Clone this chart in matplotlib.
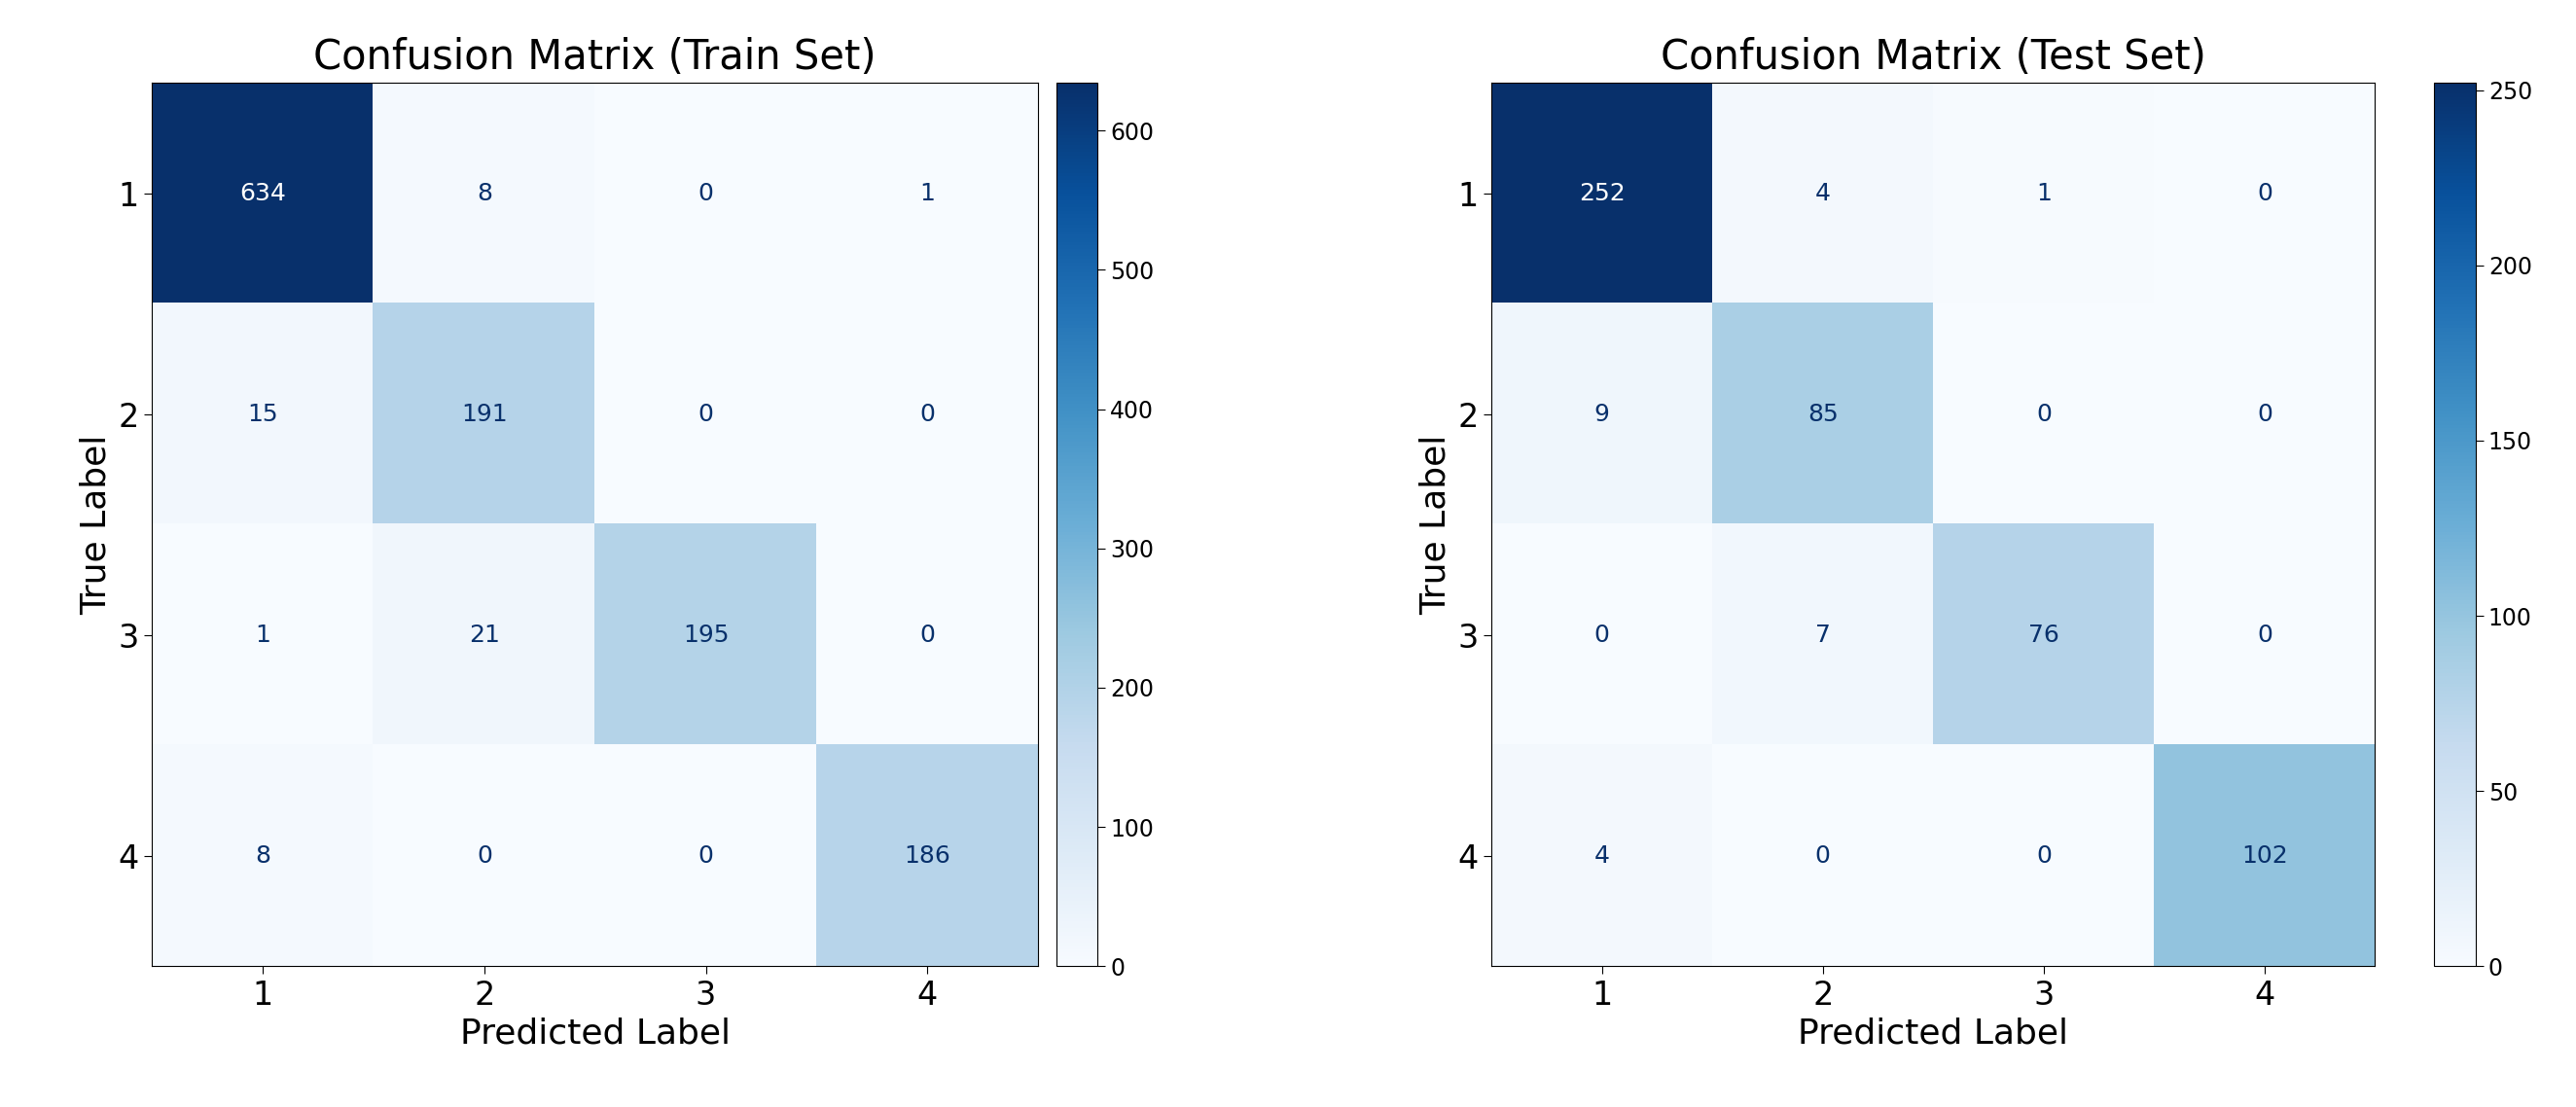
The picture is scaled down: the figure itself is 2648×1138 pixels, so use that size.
import matplotlib
matplotlib.use("Agg")
import matplotlib.pyplot as plt
import numpy as np

labels = ["1", "2", "3", "4"]
train_cm = [[634, 8, 0, 1], [15, 191, 0, 0], [1, 21, 195, 0], [8, 0, 0, 186]]
test_cm = [[252, 4, 1, 0], [9, 85, 0, 0], [0, 7, 76, 0], [4, 0, 0, 102]]
titles = ["Confusion Matrix (Train Set)", "Confusion Matrix (Test Set)"]

fig = plt.figure(figsize=(26.48, 11.38), dpi=100)
axpos = [[0.059, 0.127, 0.344, 0.798], [0.579, 0.127, 0.343, 0.798]]
cbpos = [[0.410, 0.127, 0.016, 0.798], [0.945, 0.127, 0.016, 0.798]]
cmap = plt.get_cmap("Blues")
for cm, title, ap, cp in zip([train_cm, test_cm], titles, axpos, cbpos):
    cm = np.array(cm)
    ax = fig.add_axes(ap)
    im = ax.imshow(cm, cmap=cmap, vmin=0, vmax=cm.max(), aspect="auto")
    thresh = cm.max() / 2
    for i in range(cm.shape[0]):
        for j in range(cm.shape[1]):
            v = cm[i, j]
            ax.text(j, i, str(v), ha="center", va="center", fontsize=18,
                    color="white" if v > thresh else cmap(1.0))
    ax.set_xticks(range(4)); ax.set_xticklabels(labels, fontsize=24)
    ax.set_yticks(range(4)); ax.set_yticklabels(labels, fontsize=24)
    ax.tick_params(length=6)
    ax.set_xlabel("Predicted Label", fontsize=26)
    ax.set_ylabel("True Label", fontsize=26)
    ax.set_title(title, fontsize=30, pad=10)
    cax = fig.add_axes(cp)
    cb = fig.colorbar(im, cax=cax)
    cb.ax.tick_params(labelsize=17, length=6)
    cb.outline.set_linewidth(0.8)

fig.savefig("out.png", dpi=100)
